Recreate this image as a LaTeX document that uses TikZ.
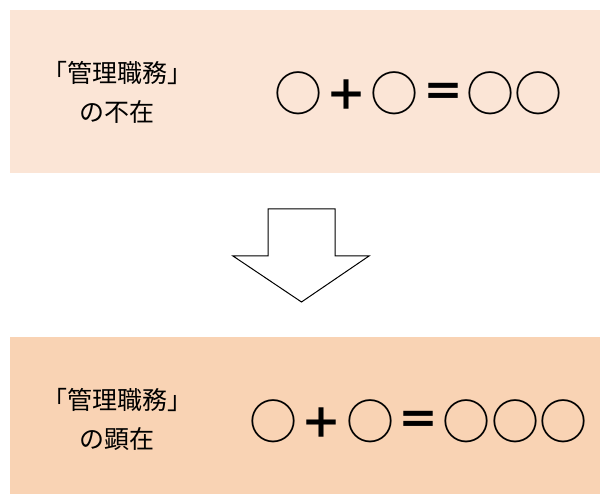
\documentclass[tikz,border=0pt]{standalone}
\usepackage{fontspec}
\newfontfamily\jp{Noto Sans CJK JP}
\definecolor{boxA}{HTML}{FBE5D6}
\definecolor{boxB}{HTML}{F9D3B4}
\begin{document}
\begin{tikzpicture}[x=1pt,y=-1pt,
  panel/.style={draw=none,minimum width=590pt,inner sep=0pt,outer sep=0pt,anchor=north west},
  label/.style={font=\jp\fontsize{25}{39}\selectfont,align=center,inner sep=0pt},
  ring/.style={font=\jp\fontsize{48}{48}\selectfont,inner sep=0pt},
  sign/.style={font=\jp\bfseries\fontsize{42}{42}\selectfont,inner sep=0pt},
  bigarrow/.style={draw=black,fill=white,line width=1pt,line join=miter}]
\useasboundingbox (0,0) rectangle (600,494);
\node[panel,fill=boxA,minimum height=163pt] (top) at (10,10) {};
\node[panel,fill=boxB,minimum height=157pt] (bottom) at (10,337) {};
\node[label] (t1) at (117,92) {「管理職務」\\の不在};
\node[label] (t2) at (117,419) {「管理職務」\\の顕在};
% top formula
\node[ring] (a1) at (298,93.3) {○};
\node[sign] (a2) at (346,95) {＋};
\node[ring] (a3) at (394,93.3) {○};
\node[sign] (a4) at (443,95.5) {＝};
\node[ring] (a5) at (490,93.3) {○};
\node[ring] (a6) at (538.5,93.3) {○};
% bottom formula
\node[ring] (b1) at (273,421.3) {○};
\node[sign] (b2) at (321.7,423) {＋};
\node[ring] (b3) at (370,421.3) {○};
\node[sign] (b4) at (418,423.5) {＝};
\node[ring] (b5) at (466.5,421.3) {○};
\node[ring] (b6) at (515,421.3) {○};
\node[ring] (b7) at (563.5,421.3) {○};
\draw[bigarrow] (268,209) -- (335,209) -- (335,256) -- (369,256) -- (301.5,302) -- (233,256) -- (268,256) -- cycle;
\end{tikzpicture}
\end{document}
